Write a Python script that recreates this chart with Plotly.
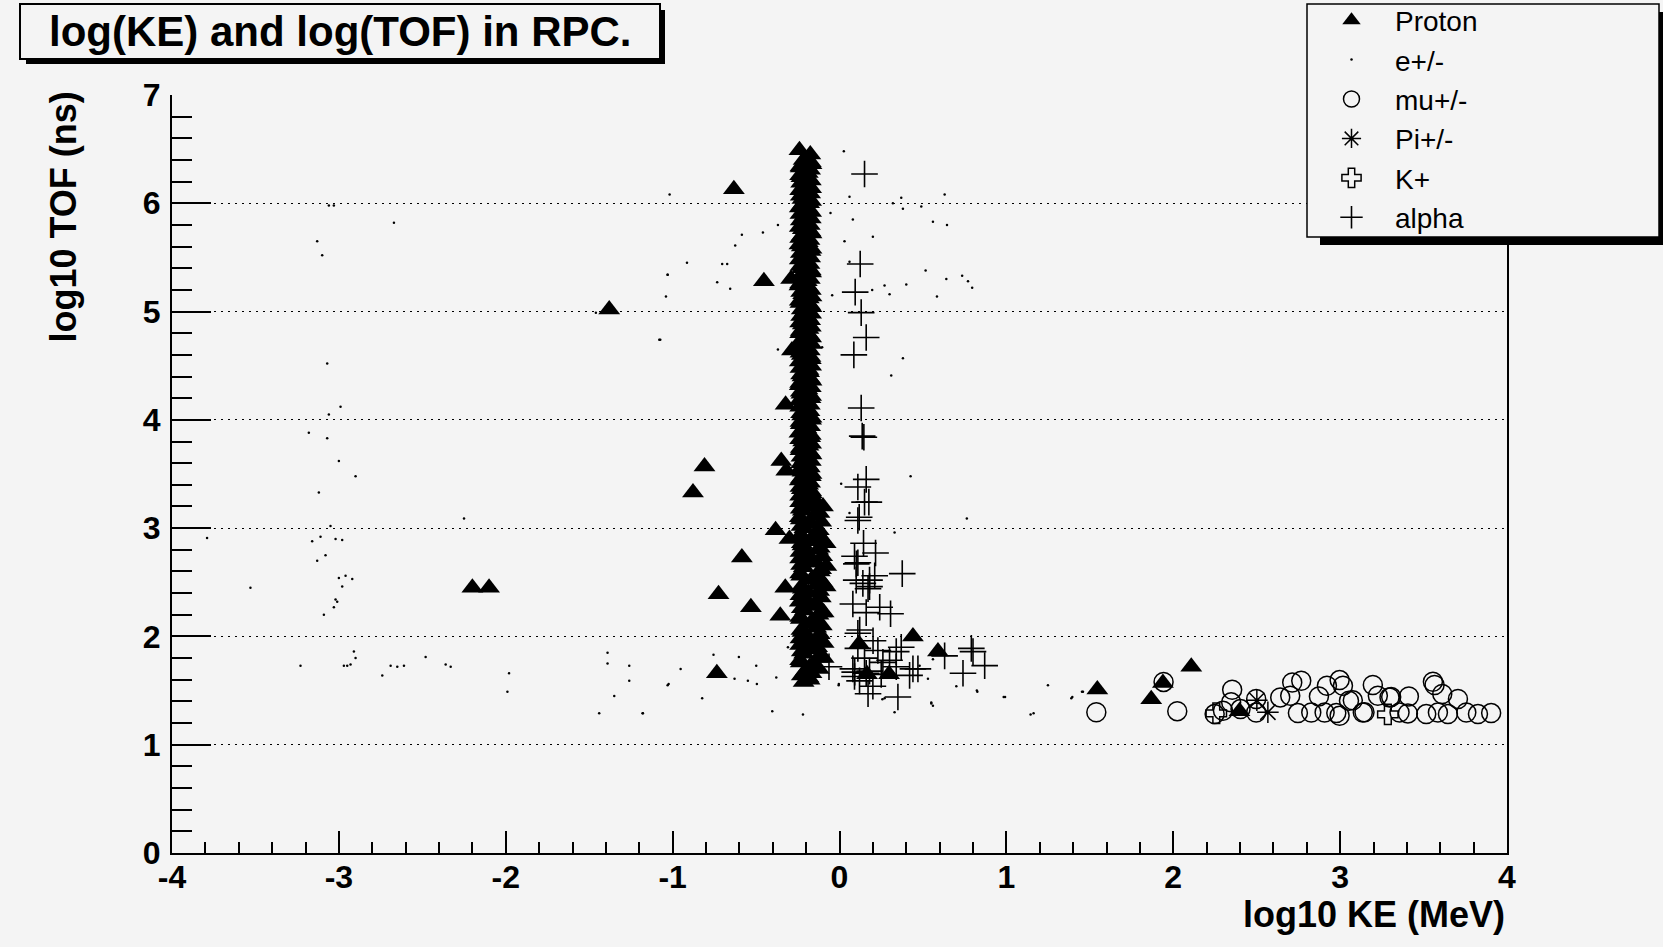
import plotly.graph_objects as go

# ---------------- data: log10 KE (MeV) vs log10 TOF (ns) ----------------
proton_x = [
    # dense band near log10 KE ~ -0.2
    -0.240, -0.175, -0.215, -0.168, -0.232, -0.190, -0.228, -0.172, -0.212, -0.236,
    -0.176, -0.222, -0.182, -0.238, -0.170, -0.210, -0.232, -0.178, -0.220, -0.168,
    -0.236, -0.190, -0.226, -0.174, -0.214, -0.238, -0.180, -0.224, -0.170, -0.232,
    -0.196, -0.240, -0.172, -0.218, -0.184, -0.234, -0.168, -0.208, -0.230, -0.176,
    -0.220, -0.186, -0.236, -0.170, -0.214, -0.240, -0.178, -0.226, -0.172, -0.206,
    -0.234, -0.182, -0.222, -0.168, -0.238, -0.192, -0.228, -0.174, -0.216, -0.236,
    -0.180, -0.224, -0.170, -0.232, -0.198, -0.240, -0.176, -0.218, -0.186, -0.234,
    -0.168, -0.210, -0.230, -0.178, -0.222, -0.172, -0.238, -0.188, -0.226, -0.166,
    -0.214, -0.236, -0.160, -0.220, -0.150, -0.232, -0.172, -0.210, -0.140, -0.238,
    -0.160, -0.222, -0.128, -0.196, -0.236, -0.150, -0.214, -0.118, -0.230, -0.170,
    -0.134, -0.220, -0.186, -0.112, -0.238, -0.156, -0.208, -0.126, -0.232, -0.176,
    -0.140, -0.222, -0.190, -0.116, -0.236, -0.160, -0.212, -0.130, -0.232, -0.178,
    -0.204, -0.226, -0.186,
    -0.172, -0.234, -0.176, -0.236, -0.180, -0.230, -0.170, -0.194, -0.232, -0.170,
    -0.228, -0.186, -0.234, -0.172, -0.196, -0.238, -0.174, -0.226, -0.180, -0.240,
    -0.168, -0.232, -0.176, -0.198, -0.234, -0.172, -0.228, -0.178, -0.236, -0.184,
    -0.230, -0.168, -0.238, -0.176, -0.226, -0.170, -0.188, -0.236, -0.172, -0.232,
    -0.180, -0.228, -0.168, -0.194, -0.234, -0.174, -0.238, -0.170, -0.186, -0.230,
    -0.176, -0.236, -0.172, -0.232, -0.170, -0.238, -0.178, -0.196, -0.230, -0.168,
    -0.234, -0.176, -0.226, -0.172, -0.236, -0.170, -0.232, -0.178, -0.228, -0.172,
    -0.190, -0.238, -0.168, -0.230, -0.176, -0.234, -0.170, -0.236, -0.150, -0.130,
    -0.232, -0.120, -0.238, -0.110, -0.228, -0.124, -0.232, -0.106, -0.226, -0.118,
    -0.234, -0.104, -0.172, -0.230, -0.110, -0.236, -0.150, -0.102, -0.228, -0.122,
    -0.234, -0.200, -0.136, -0.226, -0.108, -0.236, -0.146, -0.106, -0.228, -0.118,
    -0.234, -0.176, -0.134, -0.226, -0.112, -0.236, -0.150, -0.124, -0.168, -0.215,
    # edges of the dense band
    -0.099, -0.083, -0.079, -0.083, -0.095, -0.095, -0.095, -0.179,
    -0.290, -0.285, -0.323, -0.349, -0.319, -0.383, -0.300, -0.325, -0.355,
    # isolated protons
    -1.380, -2.200, -2.100, -0.633, -0.453, -0.809, -0.878, -0.585, -0.725, -0.531,
    -0.735, 0.117, 0.440, 0.590, 0.165, 0.297, 1.545, 1.868, 1.938, 2.108, 2.397,
]
proton_y = [
    6.49, 6.45, 6.40, 6.36, 6.33, 6.28, 6.24, 6.21, 6.16, 6.12,
    6.09, 6.04, 6.00, 5.96, 5.92, 5.88, 5.84, 5.80, 5.76, 5.72,
    5.68, 5.64, 5.60, 5.56, 5.52, 5.48, 5.44, 5.40, 5.36, 5.32,
    5.28, 5.24, 5.20, 5.16, 5.12, 5.08, 5.04, 5.00, 4.96, 4.92,
    4.88, 4.84, 4.80, 4.76, 4.72, 4.68, 4.64, 4.60, 4.56, 4.52,
    4.48, 4.44, 4.40, 4.36, 4.32, 4.28, 4.24, 4.20, 4.16, 4.12,
    4.08, 4.04, 4.00, 3.96, 3.92, 3.88, 3.84, 3.80, 3.76, 3.72,
    3.68, 3.64, 3.60, 3.56, 3.52, 3.48, 3.44, 3.40, 3.36, 3.32,
    3.28, 3.24, 3.20, 3.16, 3.12, 3.08, 3.04, 3.00, 2.96, 2.92,
    2.88, 2.84, 2.80, 2.76, 2.72, 2.68, 2.64, 2.60, 2.56, 2.52,
    2.48, 2.44, 2.40, 2.36, 2.32, 2.28, 2.24, 2.20, 2.16, 2.12,
    2.08, 2.04, 2.00, 1.96, 1.92, 1.88, 1.84, 1.80, 1.76, 1.72,
    1.68, 1.64, 1.62,
    6.38, 6.34, 6.31, 6.26, 6.22, 6.19, 6.14, 6.10, 6.07, 6.02,
    5.98, 5.94, 5.90, 5.86, 5.82, 5.78, 5.74, 5.70, 5.66, 5.62,
    5.58, 5.54, 5.50, 5.46, 5.42, 5.38, 5.34, 5.30, 5.26, 5.22,
    5.18, 5.14, 5.10, 5.06, 5.02, 4.98, 4.94, 4.90, 4.86, 4.82,
    4.78, 4.74, 4.70, 4.66, 4.62, 4.58, 4.54, 4.50, 4.46, 4.42,
    4.38, 4.34, 4.30, 4.26, 4.22, 4.18, 4.14, 4.10, 4.06, 4.02,
    3.98, 3.94, 3.90, 3.86, 3.82, 3.78, 3.74, 3.70, 3.66, 3.62,
    3.58, 3.54, 3.50, 3.46, 3.42, 3.38, 3.34, 3.30, 3.26, 3.22,
    3.18, 3.14, 3.10, 3.06, 3.02, 2.98, 2.94, 2.90, 2.86, 2.82,
    2.78, 2.74, 2.70, 2.66, 2.62, 2.58, 2.54, 2.50, 2.46, 2.42,
    2.38, 2.34, 2.30, 2.26, 2.22, 2.18, 2.14, 2.10, 2.06, 2.02,
    1.98, 1.94, 1.90, 1.86, 1.82, 1.78, 1.74, 1.70, 1.66, 1.58,
    3.20, 2.86, 2.65, 2.46, 2.22, 1.94, 1.80, 1.60,
    5.30, 4.64, 4.14, 3.62, 3.53, 2.98, 2.90, 2.45, 2.19,
    5.02, 2.45, 2.45, 6.13, 5.28, 3.57, 3.33, 2.73, 2.39, 2.27,
    1.66, 1.93, 2.00, 1.86, 1.65, 1.65, 1.51, 1.42, 1.57, 1.72, 1.31,
]

electron_x = [
    -1.018, -3.06, -3.03, -2.67, -3.13, -3.10, -1.03, -1.04, -1.46, -1.08,
    -3.07, -2.99, -3.06, -3.18, -3.07, -3.00, -2.90, -3.12, -2.25, -3.05,
    -3.79, -3.16, -3.11, -3.02, -2.98, -3.08, -3.13, -3.00, -2.96, -2.92,
    -2.98, -3.53, -3.02, -3.01, -3.03, -3.09, -2.91, -2.90, -3.23, -2.97,
    -2.95, -2.93, -2.74, -2.69, -2.65, -2.61, -2.48, -2.36, -2.33, -1.98,
    -1.99, -1.39, -1.39, -1.26, -1.26, -1.35, -1.44, -1.18, -1.03,
    0.026, 0.060, 0.320, 0.370, 0.380, 0.490, 0.630, -0.054, 0.080, -0.369,
    0.560, 0.644, -0.459, -0.585, 0.200, -0.625, 0.030, -0.914, -0.703, -0.673,
    0.060, -1.030, -0.733, -0.655, -0.044, 0.196, 0.270, 0.300, 0.400, 0.516,
    0.640, 0.735, 0.795, 0.584, -1.074, -0.369, -0.104, 0.380, 0.310, 0.426,
    0.010, 0.763, 0.330, 0.060, -0.755, -0.603, -0.952, -0.499, -0.379, -0.629,
    -0.549, -0.495, -1.024, -0.823, -1.178, -0.403, -0.219, -0.004, -0.309, 0.270,
    0.330, 0.550, 0.823, 0.560, 0.700, -0.005, 0.257, 0.550, 0.560, 0.826,
    0.984, 1.163, 1.249, 1.395, 1.459, 0.530, 0.480, 0.992, 1.145, 1.389,
    1.453, 0.770,
]
electron_y = [
    6.08, 5.98, 5.98, 5.82, 5.65, 5.52, 5.34, 5.14, 4.99, 4.74,
    4.52, 4.12, 4.05, 3.88, 3.83, 3.62, 3.48, 3.33, 3.09, 3.02,
    2.91, 2.88, 2.92, 2.90, 2.89, 2.75, 2.70, 2.54, 2.56, 2.53,
    2.46, 2.45, 2.34, 2.32, 2.27, 2.20, 1.86, 1.80, 1.73, 1.73,
    1.73, 1.74, 1.64, 1.73, 1.72, 1.73, 1.81, 1.74, 1.72, 1.66,
    1.49, 1.85, 1.75, 1.73, 1.59, 1.45, 1.29, 1.29, 1.55,
    6.48, 6.06, 6.00, 6.05, 5.95, 5.97, 6.08, 5.91, 5.85, 5.80,
    5.83, 5.80, 5.73, 5.71, 5.69, 5.61, 5.65, 5.45, 5.44, 5.44,
    5.46, 5.34, 5.27, 5.21, 5.15, 5.20, 5.24, 5.16, 5.25, 5.38,
    5.30, 5.33, 5.22, 5.14, 4.74, 4.65, 4.67, 4.57, 4.41, 3.48,
    3.41, 3.09, 2.96, 3.14, 1.83, 1.81, 1.70, 1.73, 1.62, 1.61,
    1.59, 1.56, 1.56, 1.43, 1.29, 1.31, 1.28, 1.56, 1.90, 1.43,
    1.30, 1.38, 1.50, 1.79, 1.54, 1.55, 1.42, 1.39, 1.36, 1.49,
    1.44, 1.29, 1.55, 1.44, 1.49, 1.61, 1.73, 1.44, 1.28, 1.43,
    1.49, 5.28,
]

muon_x = [
    1.539, 1.942, 2.024, 2.248, 2.298, 2.353, 2.347, 2.403, 2.497, 2.497,
    2.641, 2.713, 2.767, 2.701, 2.747, 2.827, 2.873, 2.921, 2.997, 3.017,
    3.053, 2.907, 2.977, 2.997, 3.136, 3.196, 3.226, 3.296, 3.412, 3.356,
    3.406, 3.516, 3.556, 3.566, 3.612, 3.586, 3.646, 3.706, 3.756, 3.826,
    3.905, 3.146, 3.076, 3.306,
]
muon_y = [
    1.30, 1.58, 1.31, 1.283, 1.314, 1.508, 1.391, 1.329, 1.422, 1.298,
    1.437, 1.575, 1.591, 1.452, 1.292, 1.298, 1.446, 1.545, 1.597, 1.545,
    1.406, 1.298, 1.292, 1.268, 1.298, 1.551, 1.452, 1.437, 1.446, 1.298,
    1.289, 1.283, 1.582, 1.551, 1.468, 1.298, 1.283, 1.422, 1.298, 1.283,
    1.292, 1.30, 1.41, 1.44,
]

pion_x = [2.501, 2.567]
pion_y = [1.41, 1.30]

kaon_x = [2.258, 3.286]
kaon_y = [1.29, 1.28]

alpha_x = [
    0.150, 0.124, 0.094, 0.130, 0.160, 0.086, 0.130, 0.136, 0.146, 0.160,
    0.110, 0.150, 0.176, 0.110, 0.118, 0.144, 0.216, 0.090, 0.110, 0.101,
    0.376, 0.100, 0.180, 0.211, 0.171, 0.080, 0.160, 0.241, 0.306, 0.110,
    0.121, 0.201, 0.110, 0.230, 0.340, 0.370, 0.300, 0.080, 0.180, 0.250,
    0.440, 0.470, 0.420, 0.120, 0.200, 0.171, 0.350, 0.630, 0.790, 0.800,
    0.870, 0.740, -0.063, 0.091, 0.150, 0.260, 0.180, 0.140, 0.160, 0.340,
    0.090,
]
alpha_y = [
    6.27, 5.44, 5.18, 4.99, 4.76, 4.60, 4.11, 3.85, 3.84, 3.45,
    3.38, 3.24, 3.24, 3.07, 3.10, 2.86, 2.77, 2.74, 2.68, 2.67,
    2.58, 2.52, 2.52, 2.56, 2.44, 2.30, 2.22, 2.27, 2.21, 2.03,
    2.06, 1.96, 1.89, 1.87, 1.86, 1.90, 1.78, 1.70, 1.68, 1.65,
    1.70, 1.70, 1.64, 1.59, 1.54, 1.47, 1.44, 1.82, 1.89, 1.86,
    1.73, 1.66, 1.72, 1.67, 1.80, 1.76, 2.46, 2.49, 1.66, 1.72,
    1.63,
]

x_ticks = [-4, -3, -2, -1, 0, 1, 2, 3, 4]
y_ticks = [0, 1, 2, 3, 4, 5, 6, 7]

# ---------------- page geometry (pixels) ----------------
W, H = 1663, 947
ML, MR, MT, MB = 172, 156, 95, 94
PW, PH = W - ML - MR, H - MT - MB
BG = "#f4f4f4"
FONT = "Liberation Sans"


def fx(px):
    return (px - ML) / PW


def fy(py):
    return 1 - (py - MT) / PH


fig = go.Figure()

fig.add_trace(go.Scatter(
    x=alpha_x, y=alpha_y, mode="markers", name="alpha", legendrank=6,
    marker=dict(symbol="cross-thin-open", size=19, color="black",
                line=dict(color="black", width=1.6)),
))
fig.add_trace(go.Scatter(
    x=proton_x, y=proton_y, mode="markers", name="Proton", legendrank=1,
    marker=dict(symbol="triangle-up", size=19, color="black", line=dict(width=0)),
))
fig.add_trace(go.Scatter(
    x=electron_x, y=electron_y, mode="markers", name="e+/-", legendrank=2,
    marker=dict(symbol="circle", size=2.5, color="black", line=dict(width=0)),
))
fig.add_trace(go.Scatter(
    x=muon_x, y=muon_y, mode="markers", name="mu+/-", legendrank=3,
    marker=dict(symbol="circle-open", size=19, color="black",
                line=dict(color="black", width=1.5)),
))
fig.add_trace(go.Scatter(
    x=pion_x, y=pion_y, mode="markers", name="Pi+/-", legendrank=4,
    marker=dict(symbol="asterisk-open", size=18, color="black",
                line=dict(color="black", width=1.5)),
))
fig.add_trace(go.Scatter(
    x=kaon_x, y=kaon_y, mode="markers", name="K+", legendrank=5,
    marker=dict(symbol="cross-open", size=17, color="black",
                line=dict(color="black", width=1.5)),
))

tick_font = dict(family=FONT, size=32, color="black", weight="bold")

fig.update_xaxes(
    range=[-4, 4], tickvals=x_ticks, ticktext=[str(v) for v in x_ticks],
    ticks="inside", ticklen=22, tickwidth=1.5, tickcolor="black",
    minor=dict(ticks="inside", ticklen=11, tickwidth=1.5, tickcolor="black",
               dtick=0.2, showgrid=False),
    showgrid=False, zeroline=False,
    showline=True, linewidth=2, linecolor="black", mirror=False,
    tickfont=tick_font, ticklabelstandoff=-5,
)
fig.update_yaxes(
    range=[0, 7], tickvals=y_ticks, ticktext=[str(v) for v in y_ticks],
    ticks="inside", ticklen=39, tickwidth=1.5, tickcolor="black",
    minor=dict(ticks="inside", ticklen=20, tickwidth=1.5, tickcolor="black",
               dtick=0.2, showgrid=False),
    showgrid=True, gridcolor="black", gridwidth=1, griddash="2px,5px",
    zeroline=False,
    showline=True, linewidth=2, linecolor="black", mirror=True,
    tickfont=tick_font, ticklabelstandoff=3,
)

shapes = [
    # title box with drop shadow
    dict(type="rect", xref="paper", yref="paper",
         x0=fx(26), x1=fx(665), y0=fy(64), y1=fy(10),
         fillcolor="black", line=dict(width=0), layer="above"),
    dict(type="rect", xref="paper", yref="paper",
         x0=fx(20), x1=fx(660), y0=fy(59), y1=fy(4),
         fillcolor=BG, line=dict(color="black", width=2), layer="above"),
    # legend box with drop shadow
    dict(type="rect", xref="paper", yref="paper",
         x0=fx(1320), x1=fx(1680), y0=fy(245), y1=fy(12),
         fillcolor="black", line=dict(width=0), layer="above"),
    dict(type="rect", xref="paper", yref="paper",
         x0=fx(1307), x1=fx(1659), y0=fy(237), y1=fy(4),
         fillcolor=BG, line=dict(color="black", width=1.5), layer="above"),
]

annotations = [
    dict(text="log(KE) and log(TOF) in RPC.", xref="paper", yref="paper",
         x=fx(340), y=fy(32), xanchor="center", yanchor="middle",
         showarrow=False, font=dict(family=FONT, size=42, color="black", weight="bold")),
    dict(text="log10 TOF (ns)", xref="paper", yref="paper",
         x=fx(63), y=fy(90), xanchor="center", yanchor="top", textangle=-90,
         showarrow=False, font=dict(family=FONT, size=36, color="black", weight="bold")),
    dict(text="log10 KE (MeV)", xref="paper", yref="paper",
         x=fx(1507), y=fy(914), xanchor="right", yanchor="middle",
         showarrow=False, font=dict(family=FONT, size=36, color="black", weight="bold")),
]

fig.update_layout(
    width=W, height=H,
    margin=dict(l=ML, r=MR, t=MT, b=MB, autoexpand=False),
    paper_bgcolor=BG, plot_bgcolor=BG,
    shapes=shapes, annotations=annotations,
    showlegend=True,
    legend=dict(
        x=fx(1308), y=fy(-4.5), xanchor="left", yanchor="top",
        bgcolor="rgba(0,0,0,0)", borderwidth=0,
        font=dict(family=FONT, size=28, color="black"),
        itemwidth=77, traceorder="normal",
    ),
    font=dict(family=FONT, color="black"),
)

fig.write_html("out.html")
